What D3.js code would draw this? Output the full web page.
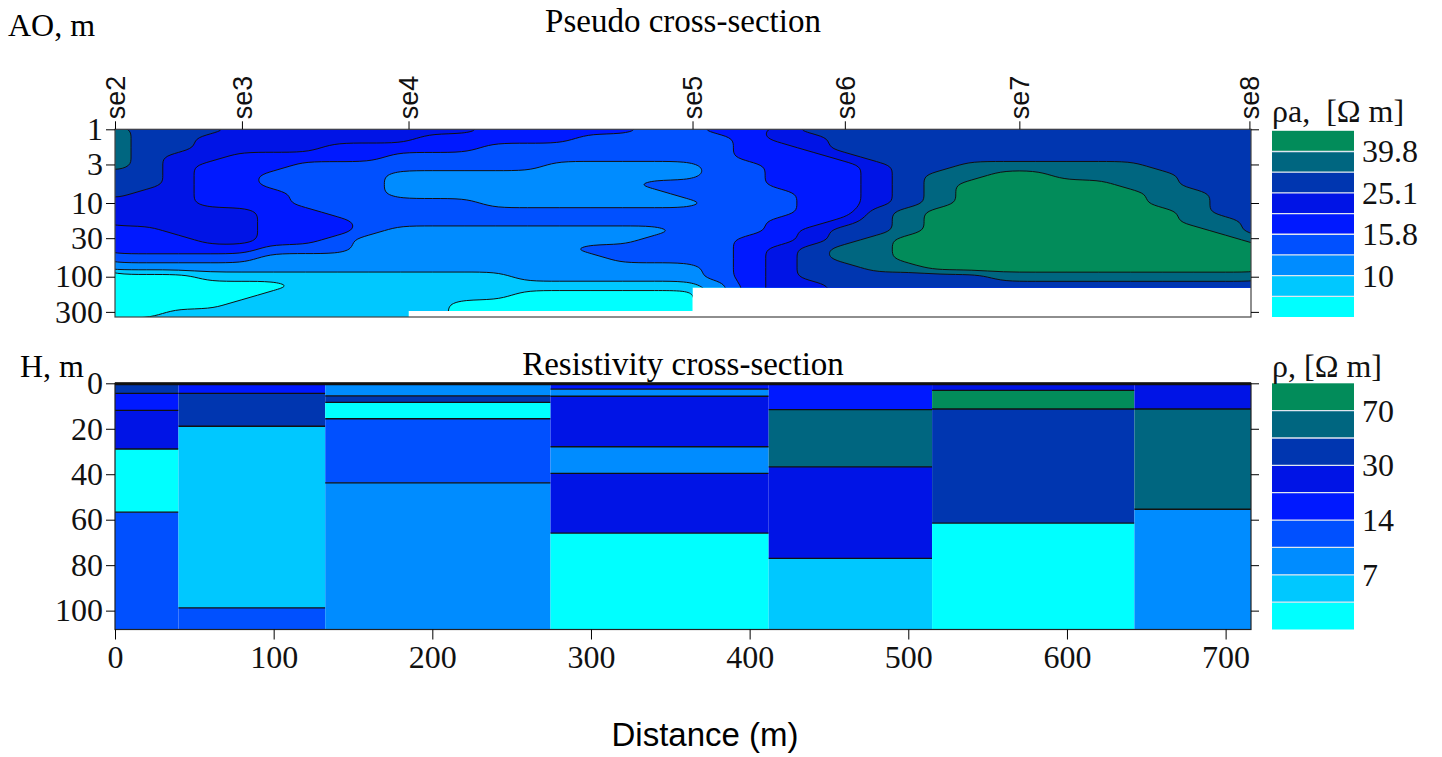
<!DOCTYPE html>
<html>
<head>
<meta charset="utf-8">
<script src="https://cdn.jsdelivr.net/npm/d3@7"></script>
<style>
  body { margin: 0; background: #fff; }
</style>
</head>
<body>
<div id="chart"></div>
<script>
// stations along the profile (m) and deepest AO that was measured there
const stationNames = ["se2", "se3", "se4", "se5", "se6", "se7", "se8"];
const stationDistance = [0, 80, 185, 364, 460, 570, 715];
const stationMaxAO = [352, 352, 292, 140, 140, 140, 140];

// colour classes, lowest resistivity first
const palette = ["#00ffff", "#00c8ff", "#008cff", "#0050ff", "#0019ff",
  "#0014e6", "#0036b0", "#006680", "#028c5a"];

const rhoaLevels = [7.94, 10, 12.6, 15.8, 20, 25.1, 31.6, 39.8];
const rhoaClassValue = [7.1, 8.9, 11.2, 14.1, 17.8, 22.4, 28.2, 35.5, 44.7];
const aoTicks = [1, 3, 10, 30, 100, 300];
const gridDistance = [0, 20, 40, 60, 80, 100, 120, 140, 160, 180, 200, 220, 240,
  260, 280, 300, 320, 340, 360, 380, 400, 420, 440, 460, 480, 500, 520, 540, 560,
  580, 600, 620, 640, 660, 680, 700, 720];
const gridAO = [1, 1.33, 1.78, 2.37, 3.16, 4.22, 5.62, 7.5, 10, 13.3, 17.8, 23.7,
  31.6, 42.2, 56.2, 75, 100, 133, 178, 237, 316, 422];
// one string per gridDistance column, one class digit per gridAO row (top to bottom)
const rhoaGridColumns = [
  "7777766655544432000001",
  "6666666555544432000001",
  "6665555555554432000011",
  "6555444445555432100011",
  "5554444445555432100111",
  "5554433444444322101111",
  "5554333334444322111111",
  "5544333333443322111111",
  "5544333333332222111111",
  "5543322233322222111111",
  "5443322233322222111111",
  "5443322233322222111000",
  "4433322223322222111000",
  "4433322223322222210000",
  "4433222223322222210000",
  "4333222223322322210000",
  "4333222223322332210000",
  "3333223223323332210000",
  "3333223323333332210000",
  "4333333333333333322222",
  "4444333333334444444444",
  "5544444333444555555555",
  "6554444444455666655555",
  "6665444444566776666666",
  "6666555556667777666666",
  "6666666667778887666666",
  "6666677778888888666666",
  "6666778888888888666666",
  "6666788888888888766666",
  "6666788888888888766666",
  "6666778888888888766666",
  "6666778888888888766666",
  "6666777888888888766666",
  "6666677778888888766666",
  "6666666777788888766666",
  "6666666666778888766666",
  "6666666666667888766666"
];

// resistivity cross-section: layer bottoms (m) and resistivity (Ohm m) per station
const rhoLevels = [5, 7, 10, 14, 20, 30, 45, 70];
const depthTicks = [0, 20, 40, 60, 80, 100];
const distanceTicks = [0, 100, 200, 300, 400, 500, 600, 700];
const layerBottoms = [
  [4.4, 11.9, 28.9, 56.7],
  [4.4, 18.9, 98.8],
  [5.5, 8.4, 15.6, 43.8],
  [2.6, 5.7, 27.9, 39.6, 65.9],
  [11.6, 36.8, 77],
  [3.1, 11.3, 61.5],
  [11.3, 55.4]
];
const layerRho = [
  [38, 17, 25, 4, 12],
  [17, 38, 6, 12],
  [8.5, 38, 4, 12, 8.5],
  [17, 8.5, 25, 8.5, 25, 4],
  [17, 55, 25, 6],
  [25, 85, 38, 4],
  [25, 55, 8.5]
];

const serif = "'Liberation Serif', 'Times New Roman', serif";
const sans = "'Liberation Sans', Arial, sans-serif";

const svg = d3.select("#chart").append("svg")
  .attr("width", 1442)
  .attr("height", 757);

const x = d3.scaleLinear().domain([0, 716]).range([115, 1251]);
const yTop = d3.scaleLog().domain([1, 352]).range([129.3, 317]);
const yBot = d3.scaleLinear().domain([0, 108.3]).range([383.3, 629.5]);
const rhoColor = d3.scaleThreshold().domain(rhoLevels).range(palette);

// ---------- pseudo cross-section ----------
const nx = gridDistance.length,
  ny = gridAO.length;
const values = [];
for (let j = 0; j < ny; j++) {
  for (let i = 0; i < nx; i++) {
    values.push(Math.log10(rhoaClassValue[+rhoaGridColumns[i][j]]));
  }
}
const contours = d3.contours()
  .size([nx, ny])
  .thresholds(rhoaLevels.map(Math.log10))(values);

// grid index -> distance / AO (node i sits at i + 0.5 in contour space)
const gx = d3.scaleLinear().domain(gridDistance.map((d, i) => i + 0.5)).range(gridDistance);
const gy = d3.scaleLinear().domain(gridAO.map((d, i) => i + 0.5)).range(gridAO.map(Math.log10));
const project = (p) => [x(gx(p[0])), yTop(Math.pow(10, gy(p[1])))];
const ringLine = d3.line().curve(d3.curveBasisClosed);
const contourPath = (mp) =>
  mp.coordinates
    .map((poly) => poly.map((ring) => ringLine(ring.slice(0, -1).map(project))).join(""))
    .join("");

const defs = svg.append("defs");
const clip = defs.append("clipPath").attr("id", "coverage");
stationDistance.slice(0, -1).forEach((d, i) => {
  const end = i === stationDistance.length - 2 ? x.domain()[1] : stationDistance[i + 1];
  clip.append("rect")
    .attr("x", x(d))
    .attr("y", yTop(1))
    .attr("width", x(end) - x(d))
    .attr("height", yTop(stationMaxAO[i]) - yTop(1));
});

const gMap = svg.append("g").attr("clip-path", "url(#coverage)");
gMap.append("rect")
  .attr("x", x(0))
  .attr("y", yTop(1))
  .attr("width", x(716) - x(0))
  .attr("height", yTop(352) - yTop(1))
  .attr("fill", palette[0]);
gMap.selectAll("path.band")
  .data(contours)
  .join("path")
  .attr("class", "band")
  .attr("d", contourPath)
  .attr("fill-rule", "evenodd")
  .attr("fill", (d, i) => palette[i + 1])
  .attr("stroke", "#111")
  .attr("stroke-width", 1)
  .attr("stroke-linejoin", "round");

svg.append("rect")
  .attr("x", x(0))
  .attr("y", yTop(1))
  .attr("width", x(716) - x(0))
  .attr("height", yTop(352) - yTop(1))
  .attr("fill", "none")
  .attr("stroke", "#444")
  .attr("stroke-width", 1.2);

// axes of the pseudo cross-section
const styleAxis = (g) => {
  g.select(".domain").remove();
  g.attr("font-family", serif).attr("font-size", 32);
  g.selectAll("text").attr("fill", "#111");
};
svg.append("g")
  .attr("transform", `translate(${x(0)},0)`)
  .call(d3.axisLeft(yTop).tickValues(aoTicks).tickFormat(d3.format("d")).tickSize(9).tickPadding(3))
  .call(styleAxis);
svg.append("g")
  .attr("transform", `translate(${x(716)},0)`)
  .call(d3.axisRight(yTop).tickValues(aoTicks).tickFormat("").tickSize(8))
  .call(styleAxis);
svg.append("g")
  .attr("transform", `translate(0,${yTop(1)})`)
  .call(d3.axisTop(x).tickValues(stationDistance).tickFormat("").tickSize(8))
  .call(styleAxis);
svg.append("g")
  .selectAll("text")
  .data(stationDistance)
  .join("text")
  .attr("transform", (d) => `translate(${x(d)},${yTop(1) - 10}) rotate(-90)`)
  .attr("dy", "0.36em")
  .attr("font-family", sans)
  .attr("font-size", 27)
  .attr("fill", "#111")
  .text((d, i) => stationNames[i]);

svg.append("text")
  .attr("x", 683)
  .attr("y", 32)
  .attr("text-anchor", "middle")
  .attr("font-family", serif)
  .attr("font-size", 33)
  .text("Pseudo cross-section");
svg.append("text")
  .attr("x", 8)
  .attr("y", 36)
  .attr("font-family", serif)
  .attr("font-size", 32)
  .text("AO, m");

// ---------- resistivity cross-section ----------
const gSec = svg.append("g");
stationDistance.forEach((s, i) => {
  const n = stationDistance.length;
  const x0 = i === 0 ? x.domain()[0] : (stationDistance[i - 1] + s) / 2;
  const x1 = i === n - 1 ? x.domain()[1] : (s + stationDistance[i + 1]) / 2;
  const tops = [0].concat(layerBottoms[i]);
  const bottoms = layerBottoms[i].concat([yBot.domain()[1]]);
  layerRho[i].forEach((rho, k) => {
    gSec.append("rect")
      .attr("x", x(x0))
      .attr("y", yBot(tops[k]))
      .attr("width", x(x1) - x(x0))
      .attr("height", yBot(bottoms[k]) - yBot(tops[k]))
      .attr("fill", rhoColor(rho));
  });
  layerBottoms[i].forEach((b) => {
    gSec.append("line")
      .attr("x1", x(x0))
      .attr("x2", x(x1))
      .attr("y1", yBot(b))
      .attr("y2", yBot(b))
      .attr("stroke", "#111")
      .attr("stroke-width", 1.3);
  });
});
svg.append("rect")
  .attr("x", x(0))
  .attr("y", yBot(0))
  .attr("width", x(716) - x(0))
  .attr("height", yBot(108.3) - yBot(0))
  .attr("fill", "none")
  .attr("stroke", "#222")
  .attr("stroke-width", 1.2);
svg.append("line")
  .attr("x1", x(0))
  .attr("x2", x(716))
  .attr("y1", yBot(0) + 0.5)
  .attr("y2", yBot(0) + 0.5)
  .attr("stroke", "#111")
  .attr("stroke-width", 3);

svg.append("g")
  .attr("transform", `translate(${x(0)},0)`)
  .call(d3.axisLeft(yBot).tickValues(depthTicks).tickSize(9).tickPadding(3))
  .call(styleAxis);
svg.append("g")
  .attr("transform", `translate(${x(716)},0)`)
  .call(d3.axisRight(yBot).tickValues(depthTicks).tickFormat("").tickSize(8))
  .call(styleAxis);
svg.append("g")
  .attr("transform", `translate(0,${yBot(108.3)})`)
  .call(d3.axisBottom(x).tickValues(distanceTicks).tickSize(10).tickPadding(6))
  .call(styleAxis);

svg.append("text")
  .attr("x", 683)
  .attr("y", 375)
  .attr("text-anchor", "middle")
  .attr("font-family", serif)
  .attr("font-size", 33)
  .text("Resistivity cross-section");
svg.append("text")
  .attr("x", 20)
  .attr("y", 377)
  .attr("font-family", serif)
  .attr("font-size", 32)
  .text("H, m");
svg.append("text")
  .attr("x", 705)
  .attr("y", 746)
  .attr("text-anchor", "middle")
  .attr("font-family", sans)
  .attr("font-size", 33)
  .text("Distance (m)");

// ---------- colour bars ----------
const legend = (top, bottom, levels, title, titleY) => {
  const g = svg.append("g");
  const band = (bottom - top) / palette.length;
  const yb = d3.scaleLinear().domain([0, palette.length]).range([bottom, top]);
  g.selectAll("rect")
    .data(palette)
    .join("rect")
    .attr("x", 1272)
    .attr("y", (d, k) => yb(k + 1))
    .attr("width", 82)
    .attr("height", band)
    .attr("fill", (d) => d);
  g.selectAll("line")
    .data(levels)
    .join("line")
    .attr("x1", 1272)
    .attr("x2", 1354)
    .attr("y1", (d, k) => yb(k + 1))
    .attr("y2", (d, k) => yb(k + 1))
    .attr("stroke", "#dfe6f0")
    .attr("stroke-width", 1.3);
  g.selectAll("text.lab")
    .data(levels.filter((d, k) => k % 2 === 1))
    .join("text")
    .attr("class", "lab")
    .attr("x", 1362)
    .attr("y", (d) => yb(levels.indexOf(d) + 1))
    .attr("dy", "0.34em")
    .attr("font-family", serif)
    .attr("font-size", 32)
    .attr("fill", "#111")
    .text((d) => String(d));
  g.append("text")
    .attr("x", 1272)
    .attr("y", titleY)
    .attr("font-family", serif)
    .attr("font-size", 32)
    .attr("fill", "#111")
    .attr("xml:space", "preserve")
    .text(title);
};
legend(yTop(1) + 1.5, yTop(352), rhoaLevels, "\u03c1a,  [\u03a9 m]", 122);
legend(yBot(0), yBot(108.3), rhoLevels, "\u03c1, [\u03a9 m]", 377);
</script>
</body>
</html>
